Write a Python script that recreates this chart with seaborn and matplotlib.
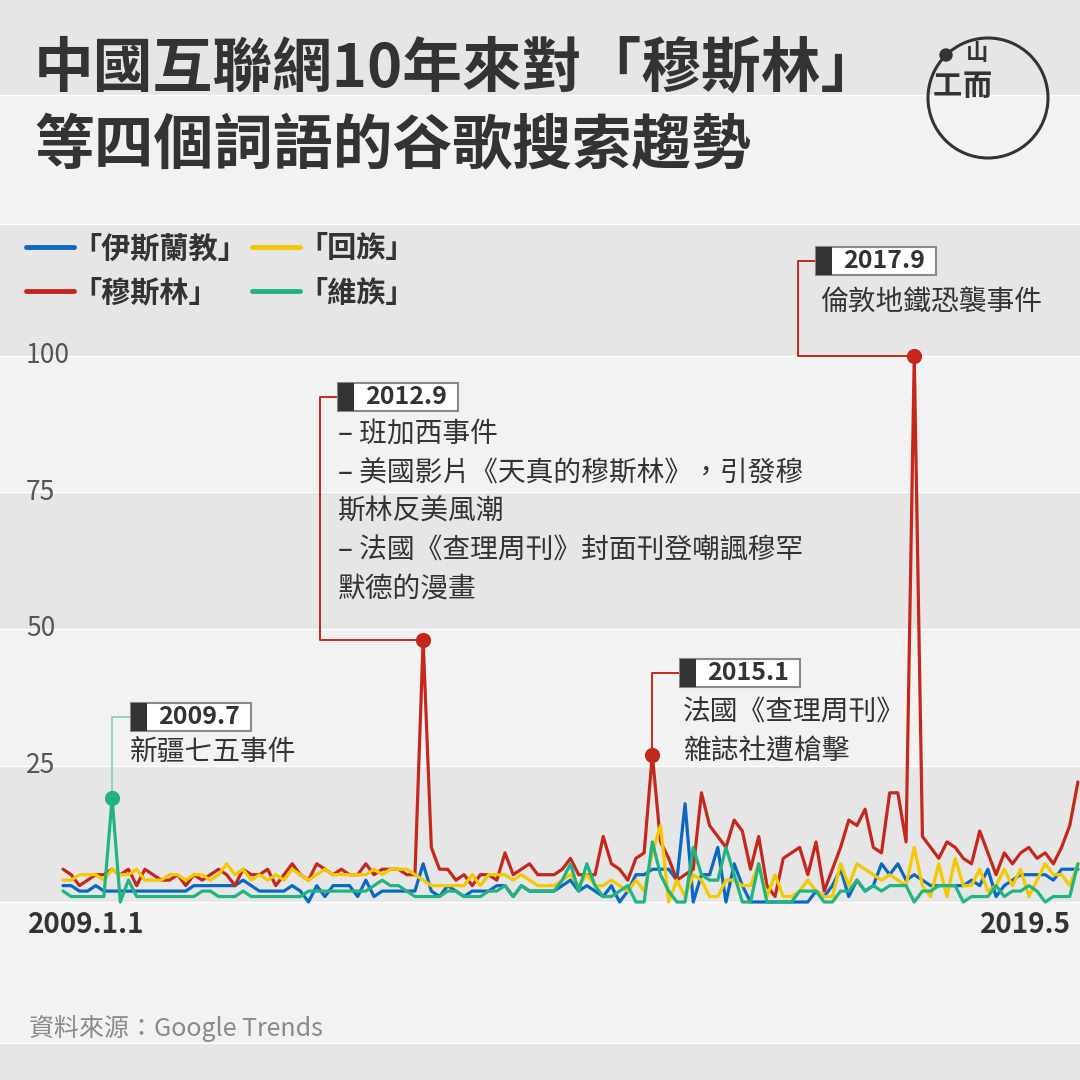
import matplotlib
matplotlib.use("Agg")
import matplotlib.pyplot as plt
from matplotlib.patches import Rectangle, Circle
import numpy as np
import pandas as pd
import seaborn as sns

# monthly google trends index, 2009.1 - 2019.5
months = pd.period_range("2009-01", "2019-05", freq="M")

islam = [3,3,2,2,3,2,2,2,2,2,2,2,2,2,2,2,3,3,3,3,3,3,4,3,2,
         2,2,2,3,2,0,3,1,3,3,3,1,4,1,2,2,2,2,2,7,2,1,3,2,1,
         2,2,2,3,3,1,3,2,2,2,2,3,4,2,3,2,1,3,0,2,5,5,6,6,6,
         4,18,0,5,5,10,0,7,3,0,0,0,0,0,0,0,0,2,1,3,6,1,4,2,3,
         7,5,7,4,5,4,3,3,3,3,3,4,3,6,1,3,4,5,5,5,5,4,6,6,6]
muslim = [6,5,3,4,5,5,6,5,6,3,6,5,4,4,5,3,5,4,5,6,5,3,6,5,5,
          6,3,5,7,5,4,7,6,5,6,5,5,7,5,6,6,6,5,5,48,10,6,6,4,5,
          3,5,5,4,9,5,6,7,5,5,5,6,8,5,5,5,12,7,6,4,8,9,27,11,8,
          4,5,6,20,14,12,10,15,13,6,12,3,1,8,9,10,5,11,2,6,10,15,14,17,10,
          9,20,20,11,100,12,10,8,11,10,8,7,13,9,5,9,7,9,10,8,9,7,10,14,22]
hui = [4,4,5,5,5,4,6,5,5,6,4,4,4,5,5,4,5,5,4,5,7,5,6,4,5,
       4,5,4,6,5,4,5,6,5,5,5,5,5,6,5,6,6,6,5,4,3,3,3,3,3,
       5,3,5,5,5,4,5,4,3,3,3,4,5,3,5,3,3,4,3,2,4,2,9,14,0,
       4,1,5,4,1,1,4,4,3,3,7,1,5,1,1,2,4,2,1,1,7,3,7,6,5,
       4,5,4,3,10,3,1,7,1,8,3,3,6,2,3,6,3,6,1,4,7,5,5,3,7]
uyghur = [2,1,1,1,1,1,19,0,4,1,1,1,1,1,1,1,1,2,2,1,1,1,2,1,1,
          1,1,1,1,1,2,2,2,2,2,2,2,2,3,4,3,3,2,1,1,1,1,2,2,1,
          1,1,2,2,3,1,3,2,2,2,2,4,7,2,7,3,1,1,2,3,0,0,11,5,2,
          0,0,10,5,4,4,10,5,0,0,7,0,0,0,0,2,2,2,0,0,2,2,4,2,3,
          2,3,3,3,0,2,2,3,3,3,0,1,1,1,3,1,2,2,3,2,0,1,1,1,7]

terms = ["「伊斯蘭教」", "「穆斯林」", "「回族」", "「維族」"]
colors = ["#0a68c4", "#c4281c", "#f5c900", "#22b47e"]
yticks = [25, 50, 75, 100]

events = [("2009-07", "「維族」", "2009.7", ["新疆七五事件"]),
          ("2012-09", "「穆斯林」", "2012.9",
           ["– 班加西事件", "– 美國影片《天真的穆斯林》，引發穆", "斯林反美風潮",
            "– 法國《查理周刊》封面刊登嘲諷穆罕", "默德的漫畫"]),
          ("2015-01", "「穆斯林」", "2015.1", ["法國《查理周刊》", "雜誌社遭槍擊"]),
          ("2017-09", "「穆斯林」", "2017.9", ["倫敦地鐵恐襲事件"])]

df = pd.DataFrame({"idx": np.arange(len(months)),
                   "「伊斯蘭教」": islam, "「穆斯林」": muslim,
                   "「回族」": hui, "「維族」": uyghur})
long = df.melt(id_vars="idx", var_name="term", value_name="value")

sns.set_theme(style="white")
plt.rcParams["font.family"] = ["Noto Sans CJK TC", "DejaVu Sans"]

W = 1080
DARK, LIGHT, INK = "#e6e6e6", "#f2f2f2", "#333333"

# pixel <-> data helpers (axes fills the whole figure)
def dx(px):
    return (px - 63) / 8.185

def dy(py):
    return (902 - py) / 5.46

def fxy(px, py):
    return px / W, 1 - py / W

fig = plt.figure(figsize=(10.8, 10.8), dpi=100)
ax = fig.add_axes([0, 0, 1, 1])
ax.set_xlim(dx(0), dx(W))
ax.set_ylim(dy(W), dy(0))
ax.axis("off")

# alternating background bands
edges = [dy(0), dy(95), dy(224), 100, 75, 50, 25, 0, dy(1043), dy(W)]
for k in range(len(edges) - 1):
    ax.axhspan(edges[k + 1], edges[k], color=DARK if k % 2 == 0 else LIGHT, zorder=0, lw=0)
for e in edges[1:-1]:
    ax.axhline(e, color="white", lw=1, zorder=0.5)

sns.lineplot(data=long, x="idx", y="value", hue="term", hue_order=terms,
             palette=colors, linewidth=2.3, ax=ax, zorder=3)

handles, labels = ax.get_legend_handles_labels()
leg = ax.legend(handles, labels, ncol=2, loc="upper left",
                bbox_to_anchor=fxy(26, 233), bbox_transform=fig.transFigure,
                frameon=False, prop={"weight": "bold", "size": 21}, labelcolor=INK,
                handlelength=1.65, handletextpad=-0.05, columnspacing=0.15,
                labelspacing=0.5, borderpad=0, borderaxespad=0)
for ln in leg.get_lines():
    ln.set_linewidth(3.5)

# title
fig.text(*fxy(34, 70), "中國互聯網10年來對「穆斯林」", fontsize=43, weight="bold",
         color=INK, va="center", ha="left")
fig.text(*fxy(34, 147), "等四個詞語的谷歌搜索趨勢", fontsize=43, weight="bold",
         color=INK, va="center", ha="left")

# logo
fig.add_artist(Circle(fxy(988, 98), 60 / W, transform=fig.transFigure,
                      fill=False, ec=INK, lw=2.2))
fig.add_artist(Circle(fxy(946, 55), 6 / W, transform=fig.transFigure, color=INK))
fig.text(*fxy(977, 54), "山", fontsize=16, weight="bold", color=INK, ha="center", va="center")
fig.text(*fxy(947, 86), "工", fontsize=21, weight="bold", color=INK, ha="center", va="center")
fig.text(*fxy(977, 86), "而", fontsize=21, weight="bold", color=INK, ha="center", va="center")

# y tick labels
for t in yticks:
    ax.text(dx(26), t, str(t), fontsize=19, color="#555555", ha="left", va="center")

# x end labels
ax.text(dx(28), dy(925), "2009.1.1", fontsize=20, weight="bold", color=INK, ha="left", va="center")
ax.text(dx(1071), dy(925), "2019.5", fontsize=20, weight="bold", color=INK, ha="right", va="center")

# source
fig.text(*fxy(29, 1028), "資料來源：Google Trends", fontsize=18, color="#8a8a8a",
         ha="left", va="center")

def date_box(px, py, label):
    fig.add_artist(Rectangle(fxy(px, py + 28), 120 / W, 28 / W, transform=fig.transFigure,
                             fc="white", ec="#8a8a8a", lw=1.5, zorder=5))
    fig.add_artist(Rectangle(fxy(px, py + 28), 16 / W, 28 / W, transform=fig.transFigure,
                             fc=INK, ec="none", zorder=6))
    fig.text(*fxy(px + 68, py + 14.5), label, fontsize=18, weight="bold", color=INK,
             ha="center", va="center", zorder=7)

series = dict(zip(terms, [islam, muslim, hui, uyghur]))
col = dict(zip(terms, colors))
month_list = [str(m) for m in months]

# annotation layout (pixels): box position, text start, leader route
layout = {
    "2009.7": dict(box=(131, 703), text=(130, 752), route="up"),
    "2012.9": dict(box=(338, 383), text=(338, 435), route="left", bend=320),
    "2015.1": dict(box=(680, 659), text=(683, 713), route="up"),
    "2017.9": dict(box=(816, 247), text=(820, 302), route="left", bend=798),
}

for month, term, label, lines in events:
    i = month_list.index(month)
    v = series[term][i]
    c = col[term]
    lay = layout[label]
    bx, by = lay["box"]
    ly = dy(by + 14)
    if lay["route"] == "up":
        xs, ys = [i, i, dx(bx)], [v, ly, ly]
    else:
        xs, ys = [i, dx(lay["bend"]), dx(lay["bend"]), dx(bx)], [v, v, ly, ly]
    lc = "#8fd7bc" if term == "「維族」" else c
    ax.plot(xs, ys, color=lc, lw=1.4, zorder=2, solid_capstyle="butt")
    ax.scatter([i], [v], s=120, color=c, zorder=4, linewidths=0)
    date_box(bx, by, label)
    tx, ty = lay["text"]
    for k, s in enumerate(lines):
        fig.text(*fxy(tx, ty + k * 38.5), s, fontsize=20, color=INK, ha="left", va="center")

fig.savefig("out.png", dpi=100)
